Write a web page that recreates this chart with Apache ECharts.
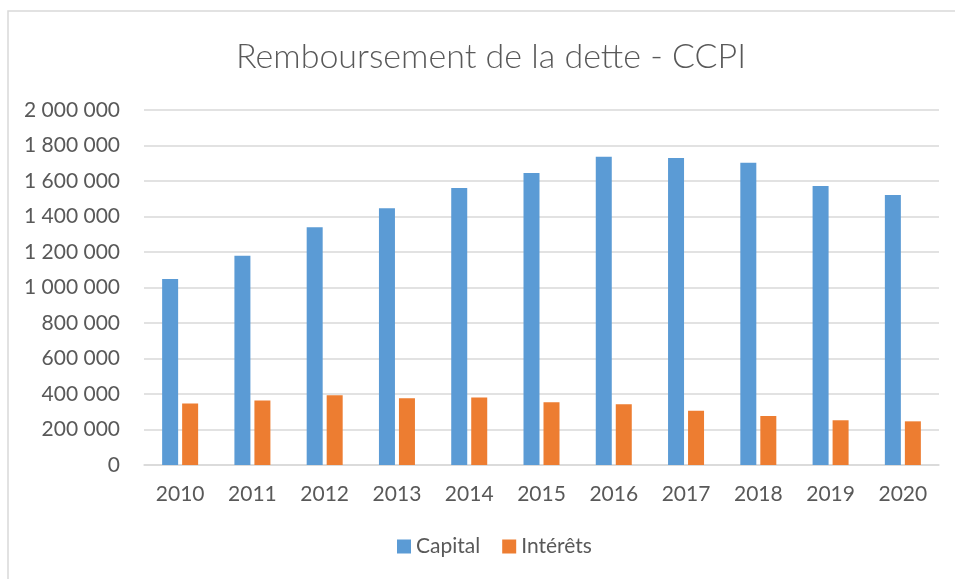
<!DOCTYPE html>
<html><head><meta charset="utf-8">
<script src="https://cdn.jsdelivr.net/npm/echarts@6/dist/echarts.min.js"></script>
<style>html,body{margin:0;padding:0;background:#fff}#c{width:955px;height:579px}</style>
</head><body><div id="c"></div>
<script>
const categories = ['2010','2011','2012','2013','2014','2015','2016','2017','2018','2019','2020'];
const capital = [1048000,1179000,1339000,1446000,1561000,1645000,1737000,1730000,1703000,1572000,1521000];
const interets = [346000,364000,393000,376000,380000,353000,342000,306000,276000,252000,246000];
const yTicks = [0,200000,400000,600000,800000,1000000,1200000,1400000,1600000,1800000,2000000];

const fmt = v => String(v).replace(/\B(?=(\d{3})+(?!\d))/g, ' ');
const FONT = 'Lato';
const chart = echarts.init(document.getElementById('c'));
chart.setOption({
  animation: false,
  textStyle: {fontFamily: FONT},
  graphic: [{type:'rect', shape:{x:8, y:11, width:960, height:600}, style:{fill:'none', stroke:'#d9d9d9', lineWidth:1.5}, silent:true}],
  title: {text:'Remboursement de la dette - CCPI', left:231, top:35,
    textStyle:{fontFamily:FONT, fontSize:34, fontWeight:300, color:'#595959'}},
  grid: {left:144, right:16, top:110, bottom:114, containLabel:false},
  legend: {bottom:17, left:392, itemWidth:14, itemHeight:14, itemGap:22, icon:'rect',
    textStyle:{fontFamily:FONT, fontSize:21, color:'#595959'}},
  xAxis: {type:'category', data:categories,
    axisLine:{lineStyle:{color:'#d9d9d9', width:1.5}}, axisTick:{show:false},
    axisLabel:{fontFamily:FONT, fontSize:21, color:'#595959', margin:19}},
  yAxis: {type:'value', min:yTicks[0], max:yTicks[yTicks.length-1], interval:200000,
    axisLine:{show:false}, axisTick:{show:false},
    splitLine:{lineStyle:{color:'#d9d9d9', width:1.5}},
    axisLabel:{fontFamily:FONT, fontSize:21, color:'#595959', margin:24, formatter:fmt}},
  series: [
    {name:'Capital', type:'bar', data:capital, barWidth:16, barGap:'25%', itemStyle:{color:'#5b9bd5'}},
    {name:'Intérêts', type:'bar', data:interets, barWidth:16, itemStyle:{color:'#ed7d31'}}
  ]
});
</script></body></html>
